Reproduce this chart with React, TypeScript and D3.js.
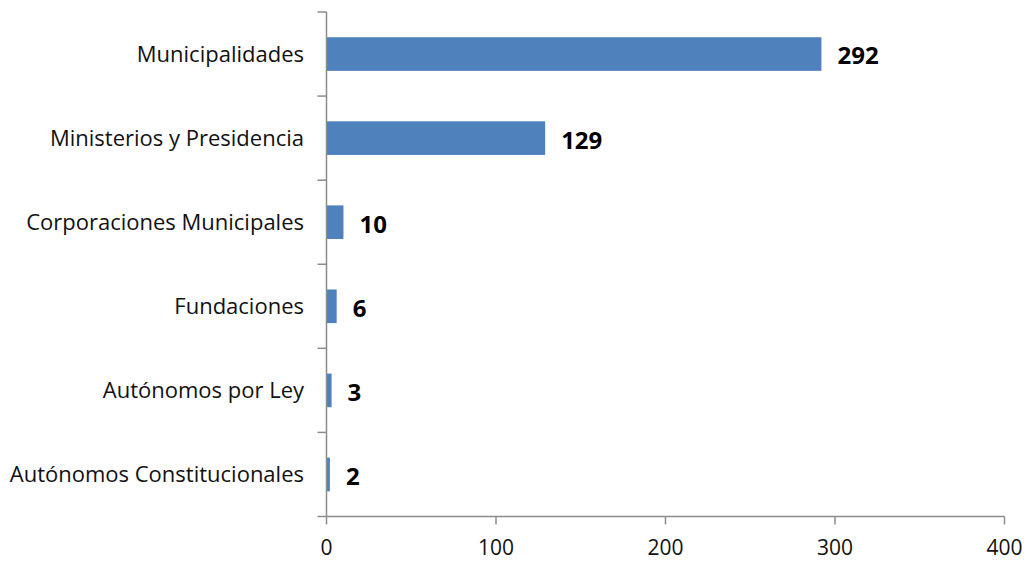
import React from "react";
import * as d3 from "d3";

const categories = [
  "Municipalidades",
  "Ministerios y Presidencia",
  "Corporaciones Municipales",
  "Fundaciones",
  "Autónomos por Ley",
  "Autónomos Constitucionales",
];
const values = [292, 129, 10, 6, 3, 2];
const xTicks = [0, 100, 200, 300, 400];

export default function App() {
  const W = 1031, H = 562;
  const left = 326.5, right = 1004.5, top = 12, bottom = 516.5;
  const x = d3.scaleLinear().domain([0, 400]).range([left, right]);
  const y = d3.scaleBand().domain(categories).range([top, bottom]).paddingInner(0.6).paddingOuter(0.3);
  const step = (bottom - top) / categories.length;
  const font = "'Open Sans', sans-serif";
  const axisColor = "#8c8c8c";
  return (
    <svg width={W} height={H} style={{ position: "absolute", left: 0, top: 0, background: "#fff" }}>
      {values.map((v, i) => (
        <rect key={i} x={x(0)} y={y(categories[i])!} width={x(v) - x(0)} height={y.bandwidth()} fill="#4F81BD" />
      ))}
      <line x1={left} x2={left} y1={top} y2={bottom} stroke={axisColor} strokeWidth={1.5} />
      {d3.range(categories.length + 1).map((i) => (
        <line key={i} x1={left - 9} x2={left} y1={top + i * step} y2={top + i * step} stroke={axisColor} strokeWidth={1.5} />
      ))}
      <line x1={left} x2={right} y1={bottom} y2={bottom} stroke={axisColor} strokeWidth={1.5} />
      {xTicks.map((t) => (
        <g key={t}>
          <line x1={x(t)} x2={x(t)} y1={bottom} y2={bottom + 8} stroke={axisColor} strokeWidth={1.5} />
          <text x={x(t)} y={555} textAnchor="middle" fontFamily={font} fontSize={21} fill="#111">{t}</text>
        </g>
      ))}
      {categories.map((c) => (
        <text key={c} x={304} y={y(c)! + y.bandwidth() / 2} dy="0.35em" textAnchor="end" fontFamily={font} fontSize={22} fill="#111">{c}</text>
      ))}
      {values.map((v, i) => (
        <text key={i} x={x(v) + 16} y={y(categories[i])! + y.bandwidth() / 2 + 2} dy="0.35em" fontFamily={font} fontSize={24} fontWeight="bold" fill="#000">{v}</text>
      ))}
    </svg>
  );
}
